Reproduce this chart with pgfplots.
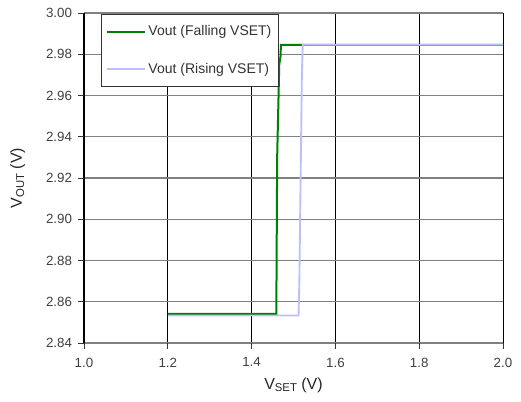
\documentclass[border=0pt]{standalone}
\usepackage{pgfplots}
\pgfplotsset{compat=1.18}
\usepackage{fontspec}
\setmainfont{Liberation Sans}
\definecolor{vgreen}{RGB}{0,128,0}
\definecolor{vblue}{RGB}{190,190,255}
\definecolor{gridgray}{RGB}{128,128,128}
\begin{document}
\begin{tikzpicture}
\begin{axis}[
  scale only axis,
  width=314.25pt, height=247.5pt,
  xmin=1.0, xmax=2.0, ymin=2.84, ymax=3.00,
  xtick={1.0,1.2,...,2.0},
  ytick={2.84,2.86,...,3.00},
  xticklabel style={yshift=-3pt, /pgf/number format/fixed, /pgf/number format/fixed zerofill, /pgf/number format/precision=1},
  yticklabel style={xshift=-1pt, /pgf/number format/fixed, /pgf/number format/fixed zerofill, /pgf/number format/precision=2},
  /pgf/number format/assume math mode=true,
  ticklabel style={font=\fontsize{10}{12}\selectfont, text=black!75},
  axis lines*=left,
  x axis line style={gridgray, line width=0.8pt},
  y axis line style={black, line width=0.8pt},
  tick align=outside,
  major tick length=4.5pt,
  tick style={black!80, line width=0.7pt},
  grid=major,
  x grid style={black, line width=0.6pt},
  y grid style={gridgray, line width=0.8pt},
  xlabel={V{\fontsize{8.5}{10}\selectfont\raisebox{-0.35ex}{SET}} (V)},
  ylabel={V{\fontsize{8.5}{10}\selectfont\raisebox{-0.35ex}{OUT}} (V)},
  label style={font=\fontsize{12}{14}\selectfont, text=black!85},
  xlabel style={at={(axis description cs:0.5,-0.127)}, anchor=center},
  ylabel style={at={(axis description cs:-0.158,0.5)}, anchor=center},
  legend style={at={(0.04,0.997)}, anchor=north west, draw=black!80, fill=white,
    font=\fontsize{10.5}{12}\selectfont, line width=0.6pt,
    inner xsep=3.5pt, inner ysep=6.5pt, row sep=15pt, text=black!80},
  legend cell align=left,
  legend image post style={line width=1.5pt},
  legend image code/.code={\draw[#1] (0pt,0pt) -- (28.5pt,0pt);},
  clip=false,
]
% outward tick marks on the bottom and left axes
\pgfplotsinvokeforeach{1.0,1.2,1.4,1.6,1.8,2.0}{
  \draw[black!80, line width=0.7pt] (axis cs:#1,2.84) -- ++(0pt,-4.5pt);
}
\pgfplotsinvokeforeach{2.84,2.86,2.88,2.90,2.92,2.94,2.96,2.98,3.00}{
  \draw[black!80, line width=0.7pt] (axis cs:1.0,#1) -- ++(-4.5pt,0pt);
}
\addplot[vgreen, line width=1.5pt] coordinates {
  (1.200,2.8541) (1.459,2.8541) (1.461,2.9300) (1.466,2.9750)
  (1.469,2.9790) (1.470,2.9846) (2.000,2.9846)
};
\addlegendentry{Vout (Falling VSET)}
\addplot[vblue, line width=1.4pt] coordinates {
  (1.200,2.8533) (1.512,2.8533) (1.514,2.8700) (1.520,2.9700)
  (1.522,2.9846) (2.000,2.9846)
};
\addlegendentry{Vout (Rising VSET)}
\end{axis}
\path[use as bounding box] (current axis.origin) ++(-63pt,-44.25pt) rectangle ++(390.75pt,301.5pt);
\end{tikzpicture}
\end{document}
